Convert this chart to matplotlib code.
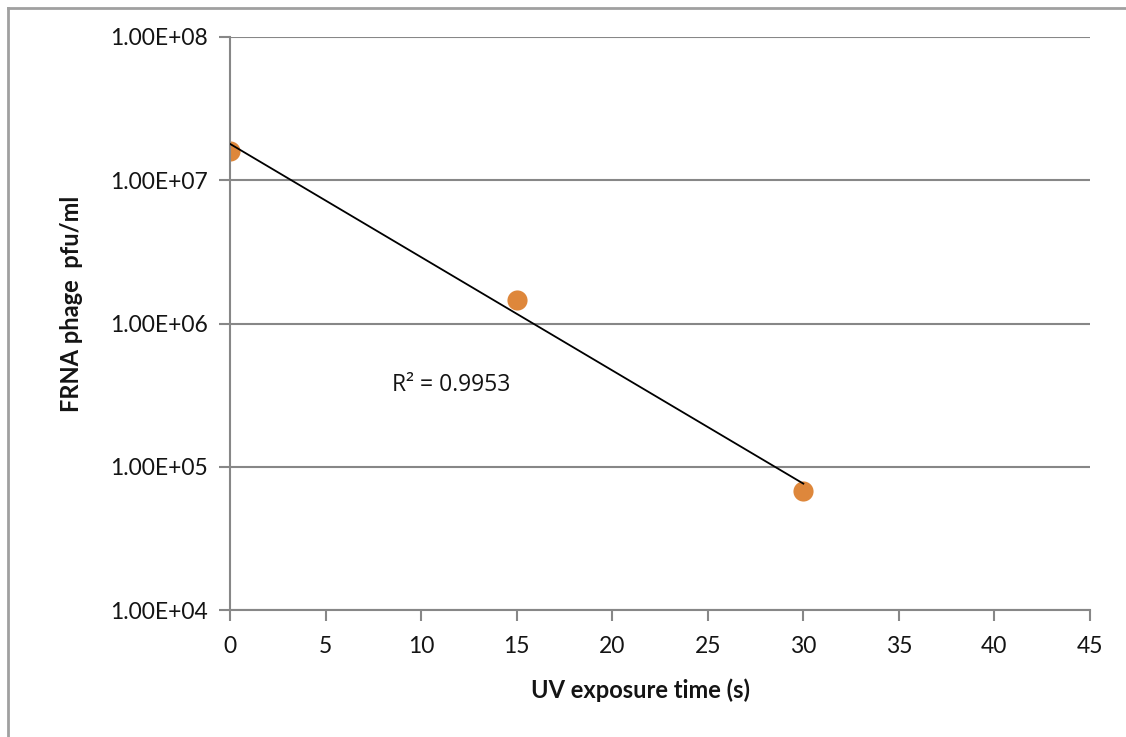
import numpy as np
import matplotlib
matplotlib.use('Agg')
import matplotlib.pyplot as plt
from matplotlib.lines import Line2D

plt.rcParams['font.family'] = ['Lato', 'DejaVu Sans']

# UV exposure vs phage titre
exposure_s = [0, 15, 30]
pfu_ml = [1.6e7, 1.47e6, 6.8e4]
r2_text = 'R² = 0.9953'

x_ticks = [0, 5, 10, 15, 20, 25, 30, 35, 40, 45]
y_ticks = [1e4, 1e5, 1e6, 1e7, 1e8]
y_tick_labels = ['1.00E+04', '1.00E+05', '1.00E+06', '1.00E+07', '1.00E+08']

grey = '#878787'
orange = '#DE873B'
ink = '#141414'

fig = plt.figure(figsize=(11.26, 7.37), dpi=100)
ax = fig.add_axes([0.2043, 0.1723, 0.968 - 0.2043, 0.9498 - 0.1723])

# exponential trendline (linear fit on log10 values)
coef = np.polyfit(exposure_s, np.log10(pfu_ml), 1)
xs = np.array([exposure_s[0], exposure_s[-1]])
ax.plot(xs, 10 ** np.polyval(coef, xs), color='black', lw=1.3, zorder=3)

ax.plot(exposure_s, pfu_ml, 'o', color=orange, ms=14.5, mec='none', zorder=2)

ax.set_yscale('log')
ax.set_xlim(0, 45)
ax.set_ylim(1e4, 1e8)
ax.set_xticks(x_ticks)
ax.set_yticks(y_ticks)
ax.set_yticklabels(y_tick_labels)
ax.minorticks_off()

ax.grid(axis='y', color=grey, lw=1.5)
ax.set_axisbelow(True)
for s in ['top', 'right']:
    ax.spines[s].set_visible(False)
for s in ['left', 'bottom']:
    ax.spines[s].set_color(grey)
    ax.spines[s].set_linewidth(1.5)
ax.tick_params(axis='both', colors=grey, width=1.5, length=8, labelsize=16.5,
               labelcolor=ink, pad=8)
ax.tick_params(axis='x', pad=11)

ax.text(8.45, 3.74e5, r2_text, fontsize=16.5, va='center', ha='left', color=ink,
        family=['Open Sans', 'DejaVu Sans'])

ax.set_xlabel('UV exposure time (s)', fontsize=17, fontweight='bold', color=ink)
ax.set_ylabel('FRNA phage  pfu/ml', fontsize=17, fontweight='bold', color=ink)
ax.xaxis.set_label_coords(0.477, -0.12)
ax.yaxis.set_label_coords(-0.171, 0.534)

# outer chart frame (top and left edges)
fig.add_artist(Line2D([0.007, 0.007], [0, 0.989], transform=fig.transFigure,
                      color='#a0a0a0', lw=2))
fig.add_artist(Line2D([0.007, 1], [0.989, 0.989], transform=fig.transFigure,
                      color='#a0a0a0', lw=2))

fig.savefig('out.png', dpi=100)
